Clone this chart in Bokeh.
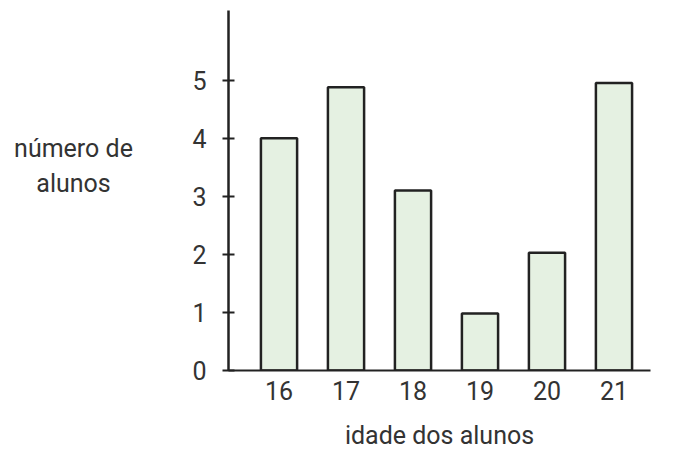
from bokeh.plotting import figure
from bokeh.layouts import row
from bokeh.models import FixedTicker, Range1d
from bokeh.core.properties import value
from bokeh.embed import file_html
from bokeh.resources import INLINE

idades = [16, 17, 18, 19, 20, 21]
alunos = [4.0, 4.88, 3.1, 0.98, 2.03, 4.95]
y_ticks = [0, 1, 2, 3, 4, 5]
y_titulo = ["número de", "alunos"]

FONT = "Roboto"
TXT = "#333333"
FS = "25px"

LW, H = 150, 456
TOP, BOTTOM = 10, 370  # frame edges (px) shared by both panels

# left panel holding the horizontal y-axis title; its frame is aligned with the chart's
t = figure(width=LW, height=H, output_backend="svg", toolbar_location=None,
           x_range=Range1d(0, LW), y_range=Range1d(BOTTOM, TOP),
           min_border_left=0, min_border_right=0,
           min_border_top=TOP, min_border_bottom=H - BOTTOM)
t.axis.visible = False
t.grid.visible = False
t.outline_line_color = None
t.text(x=[73, 73], y=[148, 183], text=y_titulo, text_align="center",
       text_baseline="middle", text_font=value(FONT), text_font_size=FS, text_color=TXT)

p = figure(width=678 - LW, height=H, output_backend="svg", toolbar_location=None,
           x_range=Range1d(15.246, 21.545), y_range=Range1d(0, 6.2),
           min_border_left=228 - LW, min_border_right=28,
           min_border_top=TOP, min_border_bottom=H - BOTTOM)
p.outline_line_color = None
p.grid.visible = False
p.background_fill_color = "white"
p.border_fill_color = "white"

p.vbar(x=idades, top=alunos, bottom=0, width=0.54,
       fill_color="#e5f1e2", line_color="#222222", line_width=2.5)

xa = p.xaxis[0]
xa.ticker = FixedTicker(ticks=idades)
xa.major_tick_in = 0
xa.major_tick_out = 0
xa.minor_tick_line_color = None
xa.axis_line_color = "#222222"
xa.axis_line_width = 2
xa.major_label_text_font = FONT
xa.major_label_text_font_size = FS
xa.major_label_text_color = TXT
xa.major_label_standoff = 10
xa.axis_label = "idade dos alunos"
xa.axis_label_text_font = FONT
xa.axis_label_text_font_size = FS
xa.axis_label_text_font_style = "normal"
xa.axis_label_text_color = TXT
xa.axis_label_standoff = 18

ya = p.yaxis[0]
ya.ticker = FixedTicker(ticks=y_ticks)
ya.major_tick_in = 6
ya.major_tick_out = 6
ya.major_tick_line_width = 2
ya.major_tick_line_color = "#222222"
ya.minor_tick_line_color = None
ya.axis_line_color = "#222222"
ya.axis_line_width = 2.5
ya.major_label_text_font = FONT
ya.major_label_text_font_size = FS
ya.major_label_text_color = TXT
ya.major_label_standoff = 16

layout = row(t, p, spacing=0)
open("out.html", "w").write(file_html(layout, INLINE))
